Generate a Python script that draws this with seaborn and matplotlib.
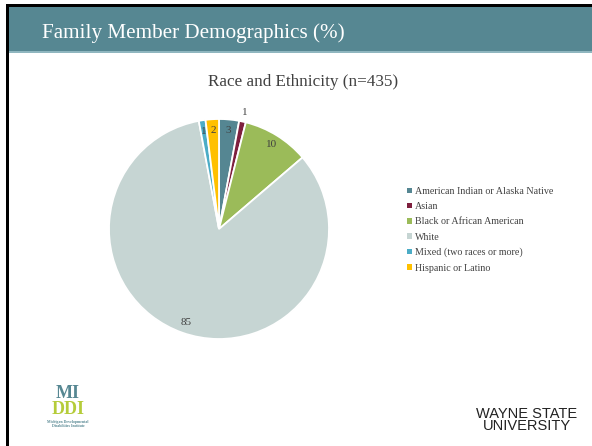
import matplotlib
matplotlib.use("Agg")
import matplotlib.pyplot as plt
from matplotlib.patches import Rectangle
import numpy as np
import seaborn as sns

# data
categories = ["American Indian or Alaska Native", "Asian", "Black or African American",
              "White", "Mixed (two races or more)", "Hispanic or Latino"]
values = [3, 1, 10, 85, 1, 2]
colors = ["#558692", "#7e1f3e", "#9bbb59", "#c6d5d3", "#4bacc6", "#ffc000"]

sns.set_theme(style="white")
plt.rcParams["font.family"] = ["Liberation Serif", "DejaVu Serif"]

W, H = 592, 446
fig = plt.figure(figsize=(W / 100, H / 100), dpi=100)
fig.patch.set_facecolor("white")


def px(x0, y0, w, h):
    # pixel box (top-left origin) -> figure fraction
    return [x0 / W, 1 - (y0 + h) / H, w / W, h / H]


# slide frame and header band
for box, col in [((9, 7, W - 9, 45), "#568792"), ((9, 51, W - 9, 2), "#8fb6bf"),
                 ((6, 4, W - 6, 3), "black"), ((6, 4, 3, H - 4), "black")]:
    b = px(*box)
    fig.patches.append(Rectangle((b[0], b[1]), b[2], b[3], transform=fig.transFigure,
                                 facecolor=col, edgecolor="none", zorder=0))

fig.text(42 / W, 1 - 33 / H, "Family Member Demographics (%)", color="white",
         fontsize=15.2, va="center", ha="left")
fig.text(303 / W, 1 - 82 / H, "Race and Ethnicity (n=435)", color="#404040",
         fontsize=12.3, va="center", ha="center")

# pie
ax = fig.add_axes(px(109, 119, 220, 220))
wedges, _ = ax.pie(values, colors=colors, startangle=90, counterclock=False,
                   wedgeprops=dict(edgecolor="white", linewidth=1.3))
ax.set_aspect("equal")
ax.set_xlim(-1, 1)
ax.set_ylim(-1, 1)
ax.axis("off")

for w, v, name in zip(wedges, values, categories):
    mid = np.deg2rad((w.theta1 + w.theta2) / 2)
    r = 1.08 if name == "Asian" else 0.9
    ax.text(r * np.cos(mid), r * np.sin(mid), str(v), ha="center", va="center",
            fontsize=8, color="#404040")

leg = fig.legend(wedges, categories, loc="upper left",
                 bbox_to_anchor=(398 / W, 1 - 178 / H), frameon=False,
                 fontsize=7.2, handlelength=0.45, handleheight=0.45,
                 handletextpad=0.35, labelspacing=0.62, labelcolor="#404040")
for h in leg.legend_handles:
    h.set_edgecolor("none")

# logos as text
fig.text(68 / W, 1 - 393 / H, "MI", color="#568792", fontsize=13,
         fontweight="bold", ha="center", va="center")
fig.text(68 / W, 1 - 409 / H, "DDI", color="#b5cc3a", fontsize=13,
         fontweight="bold", ha="center", va="center")
fig.text(68 / W, 1 - 424 / H, "Michigan Developmental\nDisabilities Institute",
         color="#568792", fontsize=2.8, fontweight="bold", ha="center",
         va="center", linespacing=0.9)
fig.text(527 / W, 1 - 420 / H, "WAYNE STATE\nUNIVERSITY", color="#222222",
         fontsize=10.5, family=["Liberation Sans Narrow", "Liberation Sans", "DejaVu Sans"],
         ha="center", va="center", linespacing=0.85)

fig.savefig("out.png", dpi=100)
